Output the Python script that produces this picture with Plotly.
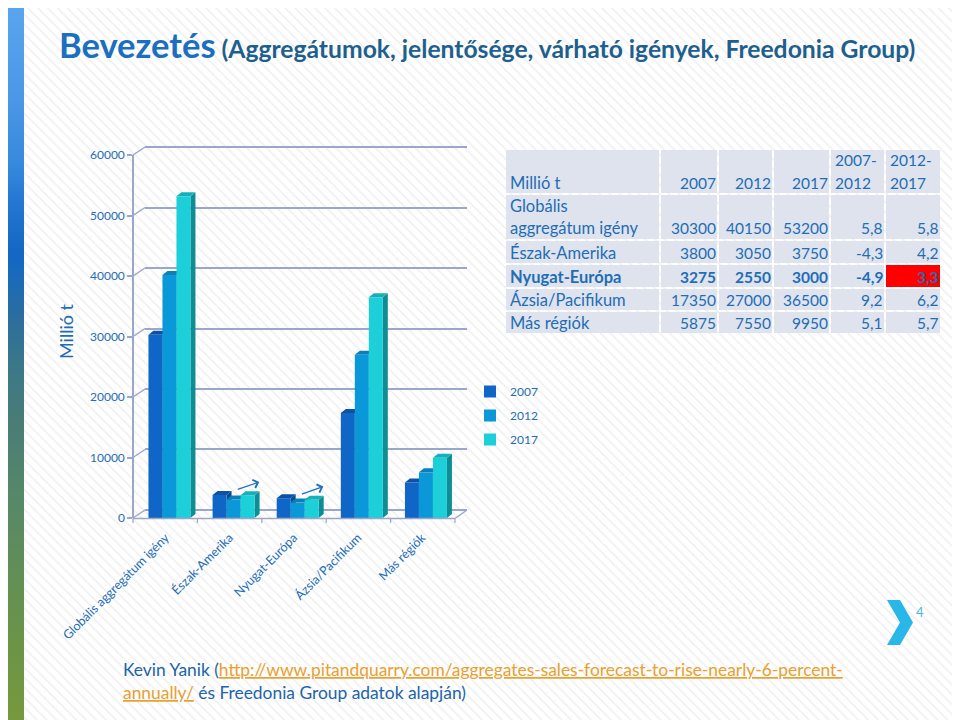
import plotly.graph_objects as go

# ---------------- data ----------------
categories = ["Globális aggregátum igény", "Észak-Amerika", "Nyugat-Európa",
              "Ázsia/Pacifikum", "Más régiók"]
years = ["2007", "2012", "2017"]
v2007 = [30300, 3800, 3275, 17350, 5875]
v2012 = [40150, 3050, 2550, 27000, 7550]
v2017 = [53200, 3750, 3000, 36500, 9950]
g0712 = ["5,8", "-4,3", "-4,9", "9,2", "5,1"]
g1217 = ["5,8", "4,2", "3,3", "6,2", "5,7"]
table_labels = ["Globális<br>aggregátum igény", "Észak-Amerika", "Nyugat-Európa",
                "Ázsia/Pacifikum", "Más régiók"]
table_header = ["Millió t", "2007", "2012", "2017", "2007-<br>2012", "2012-<br>2017"]
y_ticks = [0, 10000, 20000, 30000, 40000, 50000, 60000]
highlight_row = 2  # Nyugat-Európa

series = [v2007, v2012, v2017]

# ---------------- style ----------------
OFF = 8            # page body margin of the html page
W, H = 960 - OFF, 720 - OFF
FONT = "Lato"
TXT = "#1f6db4"
GRID = "#9ba7c9"
front_colors = ["#1066c6", "#0a98d8", "#1ccfd8"]
top_colors = ["#0b52a6", "#0a80b9", "#15b0b8"]
side_colors = ["#0a4a90", "#07709f", "#0e8e94"]


def fx(p):
    return (p - OFF) / W


def fy(p):
    return 1 - (p - OFF) / H


fig = go.Figure()

# background stripes (pixel coordinates, y measured upward from the bottom)
fig.add_trace(go.Scatter(
    x=[24, 960, 960, 24, 24], y=[0, 0, 720, 720, 0], mode="lines", fill="toself",
    line=dict(width=0), fillcolor="white",
    fillpattern=dict(shape="\\", fgcolor="#e2e2e2", bgcolor="white", size=7, solidity=0.25),
    hoverinfo="skip", showlegend=False, xaxis="x", yaxis="y"))
# left gradient band
fig.add_trace(go.Scatter(
    x=[0, 24, 24, 0, 0], y=[0, 0, 720, 720, 0], mode="lines", fill="toself",
    line=dict(width=0),
    fillgradient=dict(type="vertical", colorscale=[
        [0, "#76993a"], [0.17, "#659150"], [0.31, "#568868"], [0.42, "#487c78"],
        [0.49, "#3b7888"], [0.56, "#2a6e9e"], [0.61, "#1a6bb8"], [0.65, "#1467c4"],
        [0.72, "#2278d2"], [0.77, "#3589dc"], [0.86, "#4a97e6"], [1, "#5aa6ee"]]),
    hoverinfo="skip", showlegend=False, xaxis="x", yaxis="y"))

# back wall helper trace (keeps subplot 2 alive)
fig.add_trace(go.Scatter(x=[0], y=[0], mode="markers", marker=dict(opacity=0),
                         hoverinfo="skip", showlegend=False, xaxis="x2", yaxis="y2"))

# bars
for j, yr in enumerate(years):
    fig.add_trace(go.Bar(
        x=categories, y=series[j], name=yr, legendgroup=yr,
        marker=dict(color=front_colors[j], line=dict(width=0)),
        xaxis="x3", yaxis="y3", hoverinfo="skip"))

shapes = []
annotations = []
# 3D faces of the bars (computed from the data)
bargap = 0.345
w = (1 - bargap) / 3
px_per_cat = (458 - 137.4) / 5
px_per_unit = 363 / 60000
dx = 5 / px_per_cat
dy = 4 / px_per_unit
side_shapes, top_shapes = [], []
for j in range(3):
    for i, v in enumerate(series[j]):
        xl = i + (j - 1) * w - w / 2
        xr = xl + w
        side_shapes.append(dict(
            type="path", xref="x3", yref="y3", layer="between",
            path=f"M{xr},0 L{xr+dx},{dy} L{xr+dx},{v+dy} L{xr},{v} Z",
            fillcolor=side_colors[j], line=dict(width=0)))
        top_shapes.append(dict(
            type="path", xref="x3", yref="y3", layer="between",
            path=f"M{xl},{v} L{xl+dx},{v+dy} L{xr+dx},{v+dy} L{xr},{v} Z",
            fillcolor=top_colors[j], line=dict(width=0)))
shapes += side_shapes + top_shapes

# 3D frame: slants from front axis to back wall gridlines
for t in y_ticks:
    yf = 518 - t * px_per_unit
    yb = 510 - t * px_per_unit
    shapes.append(dict(type="line", xref="paper", yref="paper",
                       x0=fx(133), y0=fy(yf), x1=fx(145), y1=fy(yb),
                       line=dict(color=GRID, width=1.5)))
shapes.append(dict(type="line", xref="paper", yref="paper",
                   x0=fx(133), y0=fy(518.5), x1=fx(455), y1=fy(518.5),
                   line=dict(color=GRID, width=1.5)))
shapes.append(dict(type="line", xref="paper", yref="paper",
                   x0=fx(455), y0=fy(518.5), x1=fx(467), y1=fy(510),
                   line=dict(color=GRID, width=1.5)))
for k in range(len(categories) + 1):
    xk = 133 + 64.4 * k
    shapes.append(dict(type="line", xref="paper", yref="paper",
                       x0=fx(xk), y0=fy(518.5), x1=fx(xk), y1=fy(523),
                       line=dict(color=GRID, width=1.2)))
# chevron
cp = [(887, 600), (900, 600), (913, 622.5), (900, 645), (887, 645), (900, 622.5)]
path = "M" + " L".join(f"{fx(a)},{fy(b)}" for a, b in cp) + " Z"
shapes.append(dict(type="path", xref="paper", yref="paper", path=path,
                   fillcolor="#29b6e9", line=dict(width=0)))

# ---------------- table (cells + text) ----------------
col_edges = [505, 660, 718, 773, 830, 885, 941]
row_edges = [149, 194, 240, 264, 288, 311, 334]
TBG = "#dee3ee"
columns = [
    [table_labels[r] for r in range(5)],
    [str(v) for v in v2007],
    [str(v) for v in v2012],
    [str(v) for v in v2017],
    g0712,
    g1217,
]
rows = [table_header] + [[columns[c][r] for c in range(6)] for r in range(5)]
for r, row in enumerate(rows):
    top, bot = row_edges[r], row_edges[r + 1]
    for c, txt in enumerate(row):
        left, right = col_edges[c], col_edges[c + 1]
        red = (r - 1 == highlight_row and c == 5)
        shapes.append(dict(type="rect", xref="paper", yref="paper",
                           x0=fx(left + 1), x1=fx(right - 1), y0=fy(top + 1), y1=fy(bot - 1),
                           fillcolor="#ff0000" if red else TBG, line=dict(width=0),
                           layer="above"))
        lines = txt.split("<br>")
        if r == 0:
            left_align = c == 0 or c >= 4
        else:
            left_align = c == 0
        bold = (r - 1 == highlight_row)
        size = 16.5 if (c == 0) else 15.5
        for li, ln in enumerate(lines):
            yc = bot - 11.5 - 23 * (len(lines) - 1 - li)
            annotations.append(dict(
                x=fx(left + 3) if left_align else fx(right), y=fy(yc),
                xref="paper", yref="paper", showarrow=False,
                xanchor="left" if left_align else "right", yanchor="middle",
                text=f"<b>{ln}</b>" if bold else ln,
                font=dict(family=FONT, size=size, color=TXT)))

annotations += [
    dict(x=fx(57), y=fy(44), xref="paper", yref="paper", xanchor="left", yanchor="middle",
         showarrow=False,
         text=("<b><span style='font-size:34.5px;color:#1a6fc0'>Bevezetés</span> "
               "<span style='font-size:24.7px;color:#1e5f8e'>(Aggregátumok, jelentősége, "
               "várható igények, Freedonia Group)</span></b>"),
         font=dict(family=FONT, size=24, color="#1e5f8e")),
    dict(x=fx(53), y=fy(331), xref="paper", yref="paper", textangle=-90, showarrow=False,
         text="Millió t", font=dict(family=FONT, size=18, color=TXT)),
    dict(x=fx(926), y=fy(622), xref="paper", yref="paper", showarrow=False,
         text="4", font=dict(family=FONT, size=13, color="#4ab8e0")),
    dict(x=fx(121), y=fy(669), xref="paper", yref="paper", xanchor="left", yanchor="middle",
         showarrow=False, font=dict(family=FONT, size=17.4, color="#2063aa"),
         text=("Kevin Yanik (<span style='color:#e8a030'><u>http://www.pitandquarry.com/"
               "aggregates-sales-forecast-to-rise-nearly-6-percent-</u></span>")),
    dict(x=fx(121), y=fy(692), xref="paper", yref="paper", xanchor="left", yanchor="middle",
         showarrow=False, font=dict(family=FONT, size=17.4, color="#2063aa"),
         text=("<span style='color:#e8a030'><u>annually/</u></span> "
               "és Freedonia Group adatok alapján)")),
]
# trend arrows above regions with a decline 2007-2012
for i, g in enumerate(g0712):
    if g.startswith("-"):
        annotations.append(dict(
            x=i + 0.4, y=v2017[i] + 2200, xref="x3", yref="y3", ax=-23, ay=8,
            showarrow=True, arrowhead=4, arrowsize=1.3, arrowwidth=1.3,
            arrowcolor="#1f6fc0", text=""))

fig.update_layout(
    width=W, height=H, margin=dict(l=0, r=0, t=0, b=0, autoexpand=False),
    paper_bgcolor="white", plot_bgcolor="rgba(0,0,0,0)",
    barmode="group", bargap=bargap, bargroupgap=0,
    showlegend=True,
    legend=dict(x=fx(470), y=fy(377), xanchor="left", yanchor="top",
                bgcolor="rgba(0,0,0,0)", font=dict(family=FONT, size=12, color=TXT),
                tracegroupgap=5),
    xaxis=dict(domain=[0, 1], range=[OFF, 960], visible=False, fixedrange=True),
    yaxis=dict(domain=[0, 1], range=[0, 720 - OFF], visible=False, fixedrange=True),
    xaxis2=dict(domain=[fx(145), fx(467)], range=[0, 1], visible=False, anchor="y2"),
    yaxis2=dict(domain=[fy(511.8), fy(145.2)], range=[-300, 60300], anchor="x2",
                showgrid=True, gridcolor=GRID, gridwidth=1.5, tickvals=y_ticks,
                showticklabels=False, zeroline=False, showline=False, ticks=""),
    xaxis3=dict(domain=[fx(137.4), fx(458)], anchor="y3", type="category",
                range=[-0.5, 4.5], tickangle=-45, showline=False, ticks="",
                showgrid=False, automargin=False, ticklabelshift=-4,
                ticklabelstandoff=9,
                tickfont=dict(family=FONT, size=12.5, color=TXT)),
    yaxis3=dict(domain=[fy(518), fy(155)], range=[0, 60000], anchor="free",
                position=fx(133), showline=True, linecolor=GRID, linewidth=1.5,
                ticks="outside", ticklen=5, tickcolor=GRID, tickwidth=1.5,
                tickvals=y_ticks, tickformat="d", showgrid=False, zeroline=False,
                automargin=False, tickfont=dict(family=FONT, size=12, color=TXT)),
    shapes=shapes, annotations=annotations,
)

fig.write_html("out.html")
